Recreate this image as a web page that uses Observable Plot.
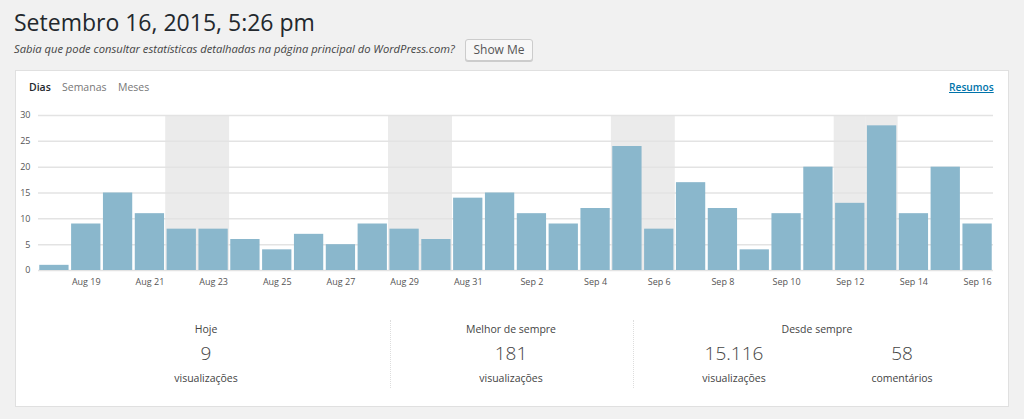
<!DOCTYPE html>
<html><head><meta charset="utf-8">
<script src="https://cdn.jsdelivr.net/npm/d3@7"></script>
<script src="https://cdn.jsdelivr.net/npm/@observablehq/plot@0.6"></script>
<style>
html,body{margin:0;padding:0;background:#f1f1f1;font-family:"Open Sans",sans-serif;width:1024px;height:419px;overflow:hidden;position:relative;color:#23282d}
#title{position:absolute;left:14px;top:6px;font-size:23px;font-weight:400;color:#23282d}
#sub{position:absolute;left:14px;top:41px;font-size:11.2px;font-style:italic;color:#444;white-space:nowrap}
#btn{position:absolute;left:465px;top:39px;width:66px;height:20px;border:1px solid #ccc;border-radius:3px;background:#f7f7f7;font-size:12px;text-align:center;line-height:20px;color:#555;box-shadow:0 1px 0 #ccc}
#panel{position:absolute;left:15px;top:70px;width:992px;height:335px;background:#fff;border:1px solid #e0e0e0}
.tab{position:absolute;top:80px;font-size:10.5px;color:#777}
#resumos{position:absolute;left:949px;top:80px;font-size:10.2px;color:#0073aa;text-decoration:underline;font-weight:600}
#chart{position:absolute;left:0;top:105px;width:1010px}
.stat{position:absolute;text-align:center;width:200px;color:#444}
.lab{font-size:10.5px}
.num{font-size:19px;font-weight:300;color:#444}
.div{position:absolute;top:320px;height:68px;border-left:1px dotted #ddd}
</style></head><body>
<div id="title">Setembro 16, 2015, 5:26 pm</div>
<div id="sub">Sabia que pode consultar estatísticas detalhadas na página principal do WordPress.com?</div>
<div id="btn">Show Me</div>
<div id="panel"></div>
<div class="tab" style="left:29px;color:#23282d;font-weight:600">Dias</div>
<div class="tab" style="left:62px">Semanas</div>
<div class="tab" style="left:118px">Meses</div>
<div id="resumos">Resumos</div>
<div id="chart"></div>
<div class="div" style="left:390px"></div>
<div class="div" style="left:633px"></div>
<div class="stat lab" style="left:106px;top:322px">Hoje</div>
<div class="stat num" style="left:106px;top:340px">9</div>
<div class="stat lab" style="left:106px;top:371px">visualizações</div>
<div class="stat lab" style="left:411px;top:322px">Melhor de sempre</div>
<div class="stat num" style="left:411px;top:340px">181</div>
<div class="stat lab" style="left:411px;top:371px">visualizações</div>
<div class="stat lab" style="left:717px;top:322px">Desde sempre</div>
<div class="stat num" style="left:634px;top:340px">15.116</div>
<div class="stat lab" style="left:634px;top:371px">visualizações</div>
<div class="stat num" style="left:802px;top:340px">58</div>
<div class="stat lab" style="left:802px;top:371px">comentários</div>
<script>
const days = ["Aug 18","Aug 19","Aug 20","Aug 21","Aug 22","Aug 23","Aug 24","Aug 25","Aug 26","Aug 27","Aug 28","Aug 29","Aug 30","Aug 31","Sep 1","Sep 2","Sep 3","Sep 4","Sep 5","Sep 6","Sep 7","Sep 8","Sep 9","Sep 10","Sep 11","Sep 12","Sep 13","Sep 14","Sep 15","Sep 16"];
const views = [1,9,15,11,8,8,6,4,7,5,9,8,6,14,15,11,9,12,24,8,17,12,4,11,20,13,28,11,20,9];
const weekends = ["Aug 22","Aug 23","Aug 29","Aug 30","Sep 5","Sep 6","Sep 12","Sep 13"];
const tickLabels = ["Aug 19","Aug 21","Aug 23","Aug 25","Aug 27","Aug 29","Aug 31","Sep 2","Sep 4","Sep 6","Sep 8","Sep 10","Sep 12","Sep 14","Sep 16"];
const yTicks = [0,5,10,15,20,25,30];

const data = days.map((d,i)=>({day:d, views:views[i]}));
const chart = Plot.plot({
  width:1010, height:190,
  marginLeft:38, marginRight:17, marginTop:10, marginBottom:25,
  style:{fontFamily:"Open Sans, sans-serif", fontSize:"9px", color:"#555", background:"transparent"},
  x:{type:"band", domain:days, paddingInner:0.08, paddingOuter:0.04, round:false, label:null},
  y:{domain:[0,30], label:null},
  marks:[
    Plot.barY(weekends,{x:d=>d, y:30, fill:"#ebebeb", insetLeft:-1.4, insetRight:-1.4}),
    Plot.ruleY(yTicks,{stroke:"#e3e3e3", strokeWidth:1.5}),
    Plot.barY(data,{x:"day", y:"views", fill:"#8ab7cc"}),
    Plot.axisY({ticks:yTicks, tickSize:0, tickPadding:8, fill:"#555", fontSize:9}),
    Plot.axisX({ticks:tickLabels, tickSize:0, tickPadding:8, fill:"#555", fontSize:9})
  ]
});
document.getElementById("chart").append(chart);
</script>
</body></html>
